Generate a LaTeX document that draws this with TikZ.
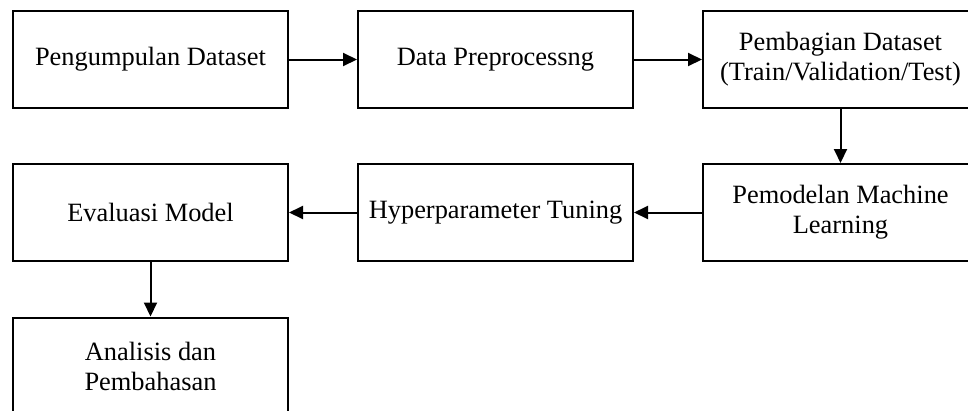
\documentclass[tikz,border=0pt]{standalone}
\usepackage{fontspec}
\setmainfont{Liberation Serif}
\usetikzlibrary{arrows.meta}
\begin{document}
\begin{tikzpicture}[x=1pt,y=1pt,
  stage/.style={draw=black, line width=2pt, fill=white, minimum width=275pt,
    minimum height=97pt, inner sep=0pt, align=center,
    font=\fontsize{26.4}{30}\selectfont},
  flow/.style={line width=2pt, -{Triangle[length=14pt,width=13pt]}}]
\useasboundingbox (0,0) rectangle (968,-410);
\clip (0,0) rectangle (968,-410);
\fill[white] (0,0) rectangle (968,-410);
% first row
\node[stage] (collect) at (150.5,-59.5) {Pengumpulan Dataset};
\node[stage] (prep)    at (495.5,-59.5) {Data Preprocessng};
\node[stage] (split)   at (840.5,-59.5) {Pembagian Dataset\\(Train/Validation/Test)};
% second row
\node[stage] (eval)    at (150.5,-212.5) {Evaluasi Model};
\node[stage] (tune)    at (495.5,-212.5) {Hyperparameter Tuning};
\node[stage] (model)   at (840.5,-212.5) {Pemodelan Machine\\Learning};
% third row
\node[stage] (discuss) at (150.5,-366) {Analisis dan\\Pembahasan};
% connectors
\draw[flow] (collect) -- (prep);
\draw[flow] (prep) -- (split);
\draw[flow] (split) -- (model);
\draw[flow] (model) -- (tune);
\draw[flow] (tune) -- (eval);
\draw[flow] (eval) -- (discuss);
\end{tikzpicture}
\end{document}
